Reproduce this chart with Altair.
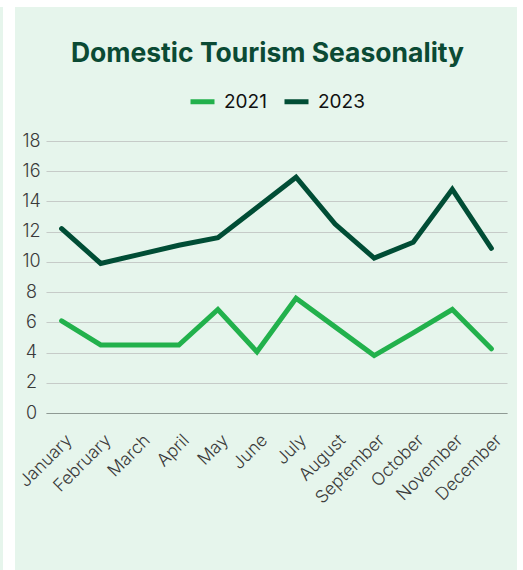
import altair as alt
import pandas as pd

months = ["January", "February", "March", "April", "May", "June", "July",
          "August", "September", "October", "November", "December"]
series_names = ["2021", "2023"]
values_2021 = [6.1, 4.5, 4.5, 4.5, 6.85, 4.05, 7.6, 5.7, 3.8, 5.3, 6.85, 4.25]
values_2023 = [12.2, 9.9, 10.5, 11.1, 11.6, 13.6, 15.6, 12.5, 10.25, 11.3, 14.8, 10.9]
y_ticks = [0, 2, 4, 6, 8, 10, 12, 14, 16, 18]
colors = ["#22b14c", "#004d35"]

rows = []
for m, v in zip(months, values_2021):
    rows.append({"month": m, "year": "2021", "value": v})
for m, v in zip(months, values_2023):
    rows.append({"month": m, "year": "2023", "value": v})
df = pd.DataFrame(rows)

FONT = "Inter"

lines = alt.Chart(df).mark_line(strokeWidth=5, strokeCap="round", strokeJoin="miter").encode(
    x=alt.X("month:N", sort=months, title=None,
            scale=alt.Scale(type="point", padding=0.4),
            axis=alt.Axis(labelAngle=-45, labelFontSize=17.5, labelColor="#3a3a3a",
                          labelFont=FONT, labelFontWeight=300, ticks=False,
                          labelPadding=18, labelOffset=1, domain=True, domainColor="#8f9a94",
                          domainWidth=1.2, grid=False)),
    y=alt.Y("value:Q", title=None,
            scale=alt.Scale(domain=[0, 18], nice=False, zero=True),
            axis=alt.Axis(values=y_ticks, labelFontSize=18, labelColor="#3a3a3a",
                          labelFont=FONT, labelFontWeight=300, labelAlign="center",
                          labelPadding=15, ticks=False, domain=False, grid=True,
                          gridColor="#c6cbc8", gridWidth=1.2)),
    color=alt.Color("year:N", title=None,
                    scale=alt.Scale(domain=series_names, range=colors),
                    legend=alt.Legend(orient="none", legendX=142, legendY=-54,
                                      direction="horizontal", symbolType="stroke",
                                      symbolStrokeWidth=5, symbolSize=576,
                                      labelFontSize=19, labelFont=FONT,
                                      labelColor="#111111", labelOffset=7,
                                      columnPadding=7)),
)

strip = pd.DataFrame({"k": [0]})
left_strip = alt.Chart(strip).mark_rect(color="white").encode(
    x=alt.value(-43), x2=alt.value(-31), y=alt.value(-141), y2=alt.value(429))
top_strip = alt.Chart(strip).mark_rect(color="white").encode(
    x=alt.value(-46), x2=alt.value(477), y=alt.value(-141), y2=alt.value(-134))
right_strip = alt.Chart(strip).mark_rect(color="white").encode(
    x=alt.value(471), x2=alt.value(477), y=alt.value(-141), y2=alt.value(429))

chart = alt.layer(lines, left_strip, top_strip, right_strip).properties(
    width=461, height=272,
    padding={"left": 46, "top": 141, "right": 16, "bottom": 157},
    autosize=alt.AutoSizeParams(type="none"),
    background="#e6f5ec",
    title=alt.TitleParams("Domestic Tourism Seasonality", font=FONT, fontSize=26.5,
                          fontWeight="bold", color="#0b4a34", anchor="middle",
                          dx=-9, offset=-67),
).configure_view(stroke=None)

chart.save("out.html", embed_options={"renderer": "svg", "actions": False})
